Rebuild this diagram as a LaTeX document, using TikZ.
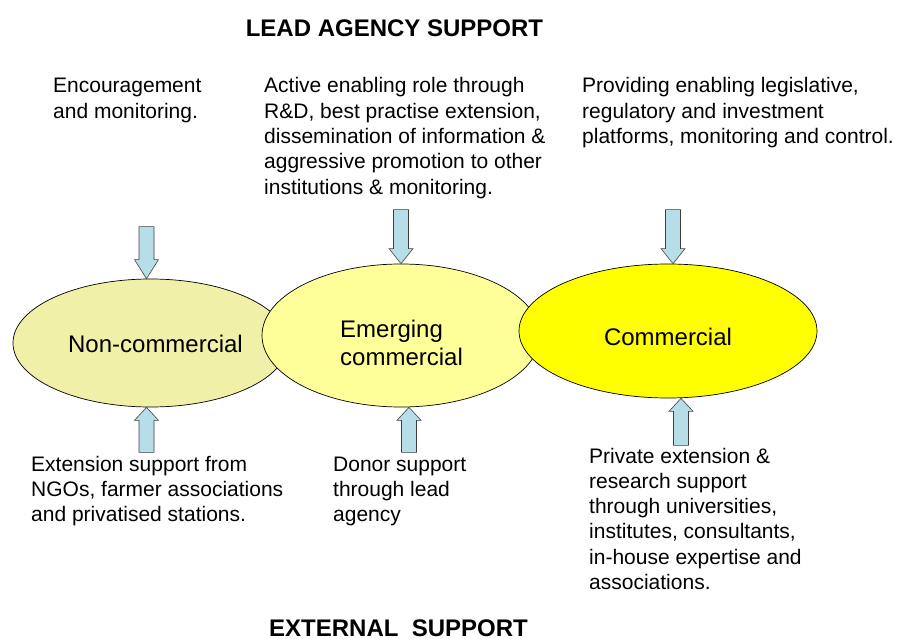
\documentclass[tikz,border=0pt]{standalone}
\usepackage{fontspec}
\setmainfont{Liberation Sans}
\usetikzlibrary{shapes.geometric,calc}
\definecolor{ncfill}{HTML}{F0F0A8}
\definecolor{ecfill}{HTML}{FFFF99}
\definecolor{cfill}{HTML}{FFFF00}
\definecolor{arrowfill}{HTML}{B7DDE8}
\definecolor{arrowline}{HTML}{404040}
\begin{document}
\begin{tikzpicture}[x=1pt,y=-1pt,
  stage/.style={ellipse, draw=black, line width=0.7pt, inner sep=0pt},
  stagelabel/.style={font=\fontsize{24}{28}\selectfont, align=left, inner sep=0pt},
  % notes are placed by the baseline of their last line
  note/.style={font=\fontsize{21}{25.3}\selectfont, align=left, anchor=base west, inner sep=0pt},
  heading/.style={font=\fontsize{24}{28}\selectfont\bfseries, anchor=base, inner sep=0pt, text depth=0pt},
  arrowbody/.style={fill=arrowfill, draw=arrowline, line width=0.6pt, line join=miter},
  % block arrow with its tip at the origin, pointing down; #1 = length, #2 = head length
  pics/blockarrow/.style 2 args={code={
    \draw[arrowbody] (0,0) -- (12,-#2) -- (7.5,-#2) -- (7.5,-#1)
      -- (-7.5,-#1) -- (-7.5,-#2) -- (-12,-#2) -- cycle;
  }}
]
\useasboundingbox (0,0) rectangle (899,639);

% headings
\node[heading] (lead) at (394.5,37) {LEAD AGENCY SUPPORT};
\node[heading] (ext) at (398.5,636) {EXTERNAL\ \ SUPPORT};

% the three stages, each one laid over the previous one
\node[stage, fill=ncfill, minimum width=275pt, minimum height=128pt] (nc) at (150.5,343) {};
\node[stage, fill=ecfill, minimum width=278pt, minimum height=143pt] (ec) at (401,335.5) {};
\node[stage, fill=cfill, minimum width=298pt, minimum height=134pt] (c) at (668,331) {};

\node[stagelabel, anchor=base] (ncl) at ($(nc.center)+(5,9)$) {Non-commercial};
\node[stagelabel, anchor=base west] (ecl) at ($(ec.center)+(-61,29.5)$) {Emerging\\commercial};
\node[stagelabel, anchor=base] (cl) at ($(c.center)+(0,14)$) {Commercial};

% lead agency support
\node[note] (t1) at (53,118.3) {Encouragement\\and monitoring.};
\node[note] (t2) at (264,194.2) {Active enabling role through\\R\&D, best practise extension,\\dissemination of information \&\\aggressive promotion to other\\institutions \& monitoring.};
\node[note] (t3) at (582,143.6) {Providing enabling legislative,\\regulatory and investment\\platforms, monitoring and control.};

% external support
\node[note] (b1) at (31,521.6) {Extension support from\\NGOs, farmer associations\\and privatised stations.};
\node[note] (b2) at (333,521.6) {Donor support\\through lead\\agency};
\node[note] (b3) at (589,589.5) {Private extension \&\\research support\\through universities,\\institutes, consultants,\\in-house expertise and\\associations.};

% arrows into the stages
\pic at ($(nc.north)+(-4,0)$) {blockarrow={52}{19}};
\pic at ($(ec.north)+(0,0)$) {blockarrow={54}{15}};
\pic at ($(c.north)+(5,0)$) {blockarrow={54}{15}};
\pic[rotate=180] at ($(nc.south)+(-4,0)$) {blockarrow={45}{13}};
\pic[rotate=180] at ($(ec.south)+(8,0)$) {blockarrow={45}{13}};
\pic[rotate=180] at ($(c.south)+(13,0)$) {blockarrow={47}{13}};
\end{tikzpicture}
\end{document}
